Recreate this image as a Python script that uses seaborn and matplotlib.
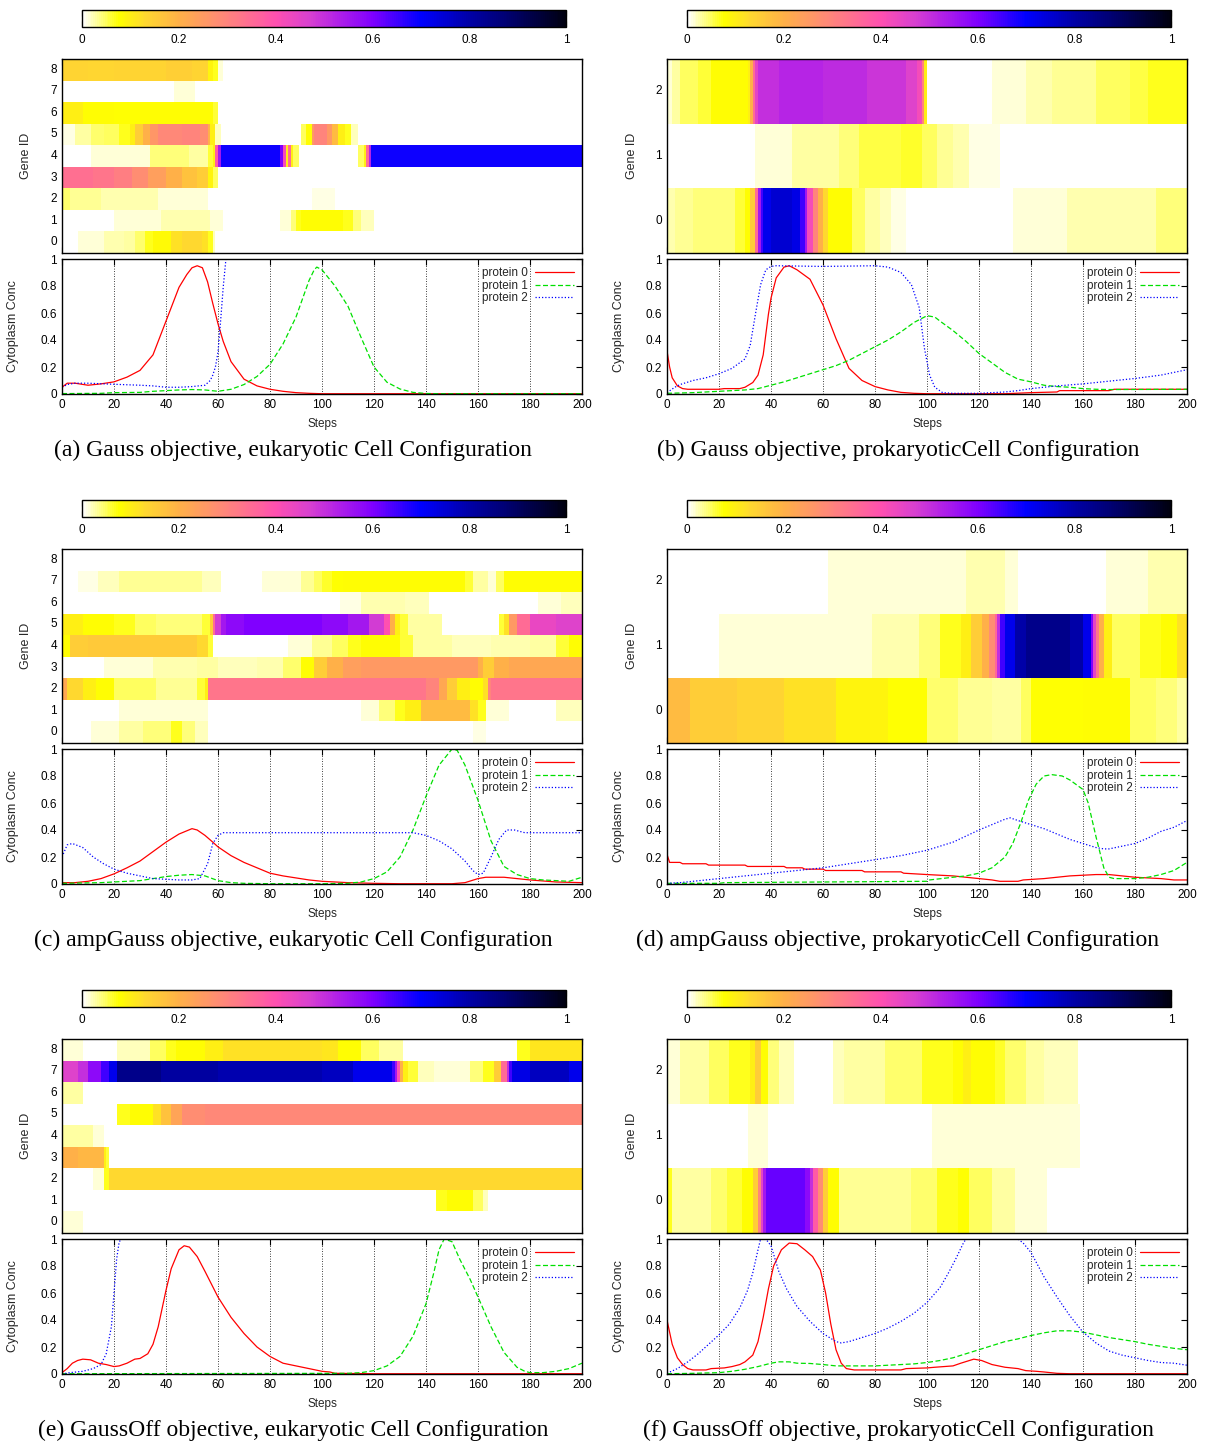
import numpy as np
import pandas as pd
import matplotlib
matplotlib.use("Agg")
import matplotlib.pyplot as plt
import seaborn as sns
from matplotlib.colors import LinearSegmentedColormap
from matplotlib.ticker import FuncFormatter

# ---------------- data ----------------
steps_total = 200
x_ticks = [0, 20, 40, 60, 80, 100, 120, 140, 160, 180, 200]
conc_ticks = [0, 0.2, 0.4, 0.6, 0.8, 1]
cbar_ticks = [0, 0.2, 0.4, 0.6, 0.8, 1]
protein_names = ["protein 0", "protein 1", "protein 2"]

captions = [
    "(a) Gauss objective, eukaryotic Cell Configuration",
    "(b) Gauss objective, prokaryoticCell Configuration",
    "(c) ampGauss objective, eukaryotic Cell Configuration",
    "(d) ampGauss objective, prokaryoticCell Configuration",
    "(e) GaussOff objective, eukaryotic Cell Configuration",
    "(f) GaussOff objective, prokaryoticCell Configuration",
]

# gene expression: (start step, value) pairs, value holds until next start
a_g0 = [(0,0),(6,0.012),(16,0.025),(24,0.03),(28,0.045),(32,0.07),(35,0.085),(42,0.12),(46,0.13),(54,0.12),(56,0.07),(58,0.02),(59,0)]
a_g1 = [(0,0),(20,0.012),(38,0.025),(57,0.012),(62,0),(84,0.012),(88,0.04),(90,0.07),(92,0.08),(108,0.07),(112,0.04),(115,0.02),(120,0)]
a_g2 = [(0,0.045),(3,0.035),(15,0.025),(37,0.015),(56,0),(96,0.01),(105,0)]
a_g3 = [(0,0.34),(12,0.33),(20,0.31),(27,0.28),(33,0.24),(40,0.2),(46,0.17),(52,0.15),(56,0.09),(58,0.05),(60,0)]
a_g4 = [(0,0),(11,0.012),(34,0.04),(49,0.03),(56,0.06),(58,0.1),(59,0.38),(60,0.55),(61,0.69),(84,0.6),(85,0.42),(86,0.1),(87,0.35),(88,0.1),(89,0.05),(91,0),(114,0.05),(116,0.1),(117,0.35),(118,0.52),(119,0.69)]
a_g5 = [(0,0.01),(5,0.03),(11,0.045),(16,0.05),(22,0.07),(26,0.1),(28,0.15),(31,0.2),(34,0.26),(37,0.29),(46,0.3),(53,0.28),(56,0.2),(57,0.1),(59,0.02),(61,0),(92,0.05),(94,0.08),(96,0.25),(97,0.3),(102,0.25),(104,0.18),(106,0.1),(109,0.07),(111,0.02),(114,0)]
a_g6 = [(0,0.1),(8,0.08),(20,0.075),(30,0.08),(58,0.06),(60,0)]
a_g7 = [(0,0),(43,0.015),(51,0)]
a_g8 = [(0,0.14),(10,0.135),(20,0.14),(40,0.145),(50,0.14),(56,0.09),(58,0.07),(60,0.015),(62,0)]

b_g0 = [(0,0.025),(3,0.035),(10,0.04),(26,0.06),(30,0.08),(32,0.15),(34,0.35),(35,0.55),(36,0.65),(37,0.72),(40,0.75),(48,0.73),(51,0.65),(53,0.55),(54,0.42),(56,0.3),(58,0.2),(60,0.13),(62,0.08),(71,0.05),(76,0.03),(82,0.02),(86,0.01),(92,0),(133,0.012),(154,0.025),(188,0.04)]
b_g1 = [(0,0),(34,0.015),(48,0.03),(66,0.04),(74,0.055),(90,0.065),(98,0.05),(104,0.035),(110,0.025),(116,0.01),(128,0)]
b_g2 = [(0,0.015),(2,0.03),(5,0.05),(12,0.06),(17,0.08),(31,0.1),(32,0.2),(33,0.35),(34,0.45),(35,0.5),(43,0.52),(60,0.51),(77,0.49),(92,0.46),(96,0.42),(98,0.3),(99,0.1),(100,0),(125,0.012),(138,0.025),(148,0.035),(165,0.05),(178,0.055),(185,0.07)]

c_g0 = [(0,0),(11,0.012),(22,0.03),(31,0.04),(42,0.07),(46,0.04),(51,0.02),(56,0),(158,0.01),(163,0)]
c_g1 = [(0,0),(22,0.012),(56,0),(115,0.012),(122,0.04),(128,0.07),(132,0.1),(138,0.18),(157,0.12),(160,0.07),(163,0.015),(172,0),(190,0.02)]
c_g2 = [(0,0.22),(2,0.13),(8,0.1),(13,0.08),(20,0.05),(36,0.035),(52,0.06),(55,0.1),(56,0.33),(140,0.3),(145,0.22),(148,0.15),(152,0.1),(157,0.08),(162,0.12),(164,0.3),(165,0.33)]
c_g3 = [(0,0),(16,0.012),(35,0.025),(52,0.03),(60,0.02),(75,0.025),(85,0.045),(92,0.08),(97,0.15),(102,0.2),(108,0.24),(115,0.25),(160,0.2),(162,0.15),(166,0.2),(172,0.22)]
c_g4 = [(0,0.08),(3,0.15),(10,0.16),(30,0.155),(52,0.13),(56,0.06),(58,0),(87,0.012),(96,0.035),(104,0.05),(110,0.07),(115,0.08),(130,0.06),(135,0.03),(150,0.02),(165,0.025),(180,0.03),(190,0.06),(195,0.08)]
c_g5 = [(0,0.1),(8,0.08),(20,0.07),(28,0.05),(36,0.04),(54,0.06),(57,0.15),(58,0.35),(59,0.48),(61,0.55),(63,0.58),(70,0.6),(100,0.58),(110,0.55),(118,0.48),(124,0.4),(126,0.2),(128,0.1),(130,0.06),(133,0.03),(146,0),(168,0.06),(170,0.12),(172,0.25),(175,0.35),(180,0.44),(190,0.46)]
c_g6 = [(0,0),(107,0.01),(115,0.025),(132,0.02),(141,0),(183,0.012),(192,0.02)]
c_g7 = [(0,0),(6,0.01),(14,0.02),(22,0.035),(54,0.02),(61,0),(77,0.012),(92,0.035),(97,0.05),(100,0.065),(104,0.075),(108,0.08),(155,0.06),(158,0.03),(164,0.015),(167,0.05),(170,0.08)]
c_g8 = [(0,0)]

d_g0 = [(0,0.18),(9,0.15),(27,0.14),(45,0.12),(65,0.09),(85,0.075),(100,0.045),(112,0.035),(125,0.03),(136,0.05),(140,0.075),(160,0.08),(178,0.05),(188,0.04),(196,0.03)]
d_g1 = [(0,0),(20,0.012),(79,0.025),(97,0.04),(105,0.07),(113,0.1),(117,0.15),(121,0.2),(124,0.28),(126,0.36),(127,0.5),(128,0.65),(130,0.72),(134,0.8),(138,0.84),(155,0.8),(160,0.72),(163,0.6),(164,0.45),(165,0.33),(166,0.2),(168,0.1),(171,0.05),(182,0.07),(190,0.08),(196,0.12)]
d_g2 = [(0,0),(62,0.012),(115,0.025),(130,0.012),(135,0),(169,0.015),(185,0.025)]

e_g0 = [(0,0.015),(8,0)]
e_g1 = [(0,0),(144,0.07),(148,0.08),(158,0.05),(162,0.02),(164,0)]
e_g2 = [(0,0),(12,0.012),(16,0.07),(18,0.13)]
e_g3 = [(0,0.2),(6,0.19),(16,0.1),(17,0.06),(18,0)]
e_g4 = [(0,0.03),(12,0.015),(16,0)]
e_g5 = [(0,0),(21,0.07),(26,0.08),(35,0.12),(38,0.17),(42,0.23),(46,0.28),(55,0.29)]
e_g6 = [(0,0.03),(8,0)]
e_g7 = [(0,0.46),(6,0.5),(10,0.58),(15,0.65),(18,0.72),(21,0.84),(30,0.85),(38,0.81),(60,0.79),(100,0.77),(112,0.72),(127,0.65),(128,0.55),(129,0.4),(130,0.2),(131,0.1),(133,0.06),(137,0.02),(143,0.015),(157,0.04),(162,0.07),(166,0.15),(169,0.35),(171,0.5),(172,0.65),(173,0.73),(180,0.77),(195,0.72)]
e_g8 = [(0,0.015),(8,0),(21,0.02),(34,0.05),(40,0.07),(44,0.08),(55,0.1),(62,0.12),(100,0.11),(106,0.08),(115,0.05),(122,0.03),(131,0),(175,0.07),(180,0.11)]

f_g0 = [(0,0.07),(2,0.03),(17,0.045),(23,0.06),(29,0.08),(33,0.15),(35,0.3),(36,0.45),(37,0.55),(38,0.62),(53,0.58),(55,0.5),(56,0.38),(58,0.28),(60,0.15),(62,0.08),(66,0.035),(94,0.045),(104,0.07),(112,0.075),(116,0.05),(125,0.03),(134,0.015),(146,0)]
f_g1 = [(0,0),(31,0.012),(39,0),(102,0.012),(159,0)]
f_g2 = [(0,0.015),(5,0.03),(16,0.05),(24,0.07),(32,0.1),(34,0.15),(36,0.08),(39,0.04),(43,0.02),(49,0),(64,0.02),(68,0.03),(84,0.045),(98,0.07),(110,0.08),(114,0.1),(117,0.08),(126,0.065),(130,0.045),(138,0.03),(145,0.02),(158,0)]

# cytoplasm concentration curves
a_p0_x = [0,2,5,10,15,20,25,30,35,40,45,48,50,52,54,56,58,60,62,65,70,75,80,85,90,95,100,200]
a_p0_y = [0.05,0.08,0.08,0.065,0.075,0.09,0.125,0.175,0.29,0.54,0.79,0.885,0.935,0.95,0.935,0.83,0.67,0.52,0.39,0.24,0.11,0.06,0.035,0.02,0.01,0.005,0.002,0.002]
a_p1_x = [0,15,20,30,35,40,45,50,55,60,65,70,75,80,85,90,95,97,98,100,105,110,115,120,125,130,135,140,145,200]
a_p1_y = [0.003,0.005,0.01,0.012,0.02,0.025,0.03,0.033,0.03,0.02,0.035,0.07,0.13,0.22,0.37,0.57,0.84,0.92,0.94,0.92,0.8,0.65,0.42,0.2,0.087,0.037,0.012,0.004,0.002,0.002]
a_p2_x = [0,2,5,10,20,30,35,40,45,50,55,57,58,59,60,61,62,63,64,200]
a_p2_y = [0.05,0.07,0.08,0.08,0.072,0.065,0.06,0.05,0.05,0.055,0.065,0.1,0.14,0.2,0.31,0.54,0.79,0.99,1.3,1.3]

b_p0_x = [0,1,2,4,6,8,20,22,28,30,33,35,37,39,40,42,45,47,50,55,60,65,70,75,80,85,90,95,100,130,140,150,151,170,172,200]
b_p0_y = [0.32,0.2,0.12,0.06,0.04,0.035,0.035,0.04,0.04,0.05,0.085,0.14,0.29,0.59,0.71,0.86,0.94,0.95,0.92,0.85,0.66,0.41,0.19,0.1,0.055,0.03,0.012,0.005,0.002,0.002,0.01,0.015,0.025,0.025,0.035,0.035]
b_p1_x = [0,10,20,30,35,40,45,50,55,60,65,70,75,80,85,90,95,100,103,105,110,115,120,125,130,135,140,145,150,155,160,165,170,200]
b_p1_y = [0.005,0.01,0.02,0.03,0.04,0.065,0.09,0.12,0.15,0.18,0.21,0.25,0.3,0.35,0.4,0.46,0.53,0.58,0.57,0.54,0.47,0.39,0.3,0.23,0.16,0.11,0.09,0.065,0.055,0.05,0.04,0.035,0.033,0.035]
b_p2_x = [0,3,5,10,15,20,25,30,32,34,36,38,40,42,60,80,85,90,94,97,99,101,103,106,110,120,125,130,135,140,150,160,170,180,190,200]
b_p2_y = [0.01,0.05,0.07,0.1,0.12,0.15,0.19,0.26,0.36,0.59,0.81,0.92,0.945,0.95,0.945,0.95,0.94,0.9,0.81,0.64,0.34,0.14,0.05,0.01,0.005,0.005,0.01,0.015,0.025,0.04,0.06,0.075,0.095,0.115,0.14,0.18]

c_p0_x = [0,5,10,15,20,25,30,35,40,45,50,52,55,58,60,65,70,75,80,85,90,95,100,110,120,130,150,155,160,163,170,175,180,190,200]
c_p0_y = [0.01,0.01,0.02,0.04,0.075,0.12,0.17,0.24,0.31,0.37,0.41,0.4,0.36,0.31,0.275,0.21,0.16,0.12,0.08,0.06,0.045,0.03,0.02,0.01,0.005,0.002,0.002,0.01,0.04,0.05,0.05,0.04,0.03,0.015,0.01]
c_p1_x = [0,15,20,30,35,40,45,50,55,60,65,70,80,100,110,115,120,125,130,135,140,145,150,152,155,160,165,170,175,180,185,190,195,200]
c_p1_y = [0.005,0.01,0.015,0.025,0.04,0.055,0.065,0.07,0.06,0.025,0.01,0.005,0.002,0.002,0.005,0.015,0.04,0.09,0.2,0.4,0.65,0.88,1.0,0.99,0.88,0.62,0.32,0.13,0.07,0.04,0.03,0.025,0.02,0.05]
c_p2_x = [0,2,4,8,12,16,20,25,30,35,40,45,50,53,56,58,60,62,100,135,140,145,150,155,158,160,162,165,168,171,174,178,200]
c_p2_y = [0.2,0.29,0.3,0.27,0.2,0.15,0.11,0.08,0.06,0.04,0.035,0.03,0.03,0.04,0.15,0.3,0.36,0.38,0.38,0.38,0.36,0.32,0.26,0.17,0.1,0.07,0.08,0.2,0.33,0.4,0.4,0.38,0.38]

d_p0_x = [0,1,5,6,15,16,30,31,45,46,52,53,60,61,75,76,90,91,100,110,115,120,125,128,135,137,145,150,155,165,170,175,180,190,195,200]
d_p0_y = [0.22,0.16,0.16,0.15,0.15,0.14,0.14,0.13,0.13,0.12,0.12,0.11,0.11,0.1,0.1,0.09,0.09,0.08,0.07,0.06,0.05,0.04,0.03,0.02,0.02,0.03,0.04,0.05,0.06,0.07,0.07,0.06,0.05,0.04,0.03,0.03]
d_p1_x = [0,20,22,100,101,110,115,120,125,130,133,136,139,142,145,148,152,155,160,162,165,168,170,172,180,185,190,195,200]
d_p1_y = [0.005,0.005,0.01,0.02,0.03,0.05,0.06,0.08,0.12,0.2,0.3,0.45,0.62,0.74,0.8,0.81,0.8,0.77,0.7,0.6,0.35,0.12,0.05,0.04,0.04,0.05,0.07,0.1,0.16]
d_p2_x = [0,5,10,20,30,40,50,60,70,80,90,100,110,120,125,130,132,135,140,145,150,155,160,165,168,170,175,180,185,190,195,200]
d_p2_y = [0.005,0.01,0.02,0.04,0.06,0.08,0.1,0.12,0.15,0.18,0.21,0.25,0.31,0.4,0.44,0.48,0.49,0.47,0.44,0.41,0.37,0.33,0.3,0.27,0.26,0.26,0.28,0.3,0.34,0.39,0.42,0.47]

e_p0_x = [0,2,4,6,8,11,14,17,20,22,25,28,30,33,35,37,40,42,45,47,49,52,55,60,65,70,75,80,85,90,95,100,103,105,120,200]
e_p0_y = [0.01,0.04,0.08,0.1,0.11,0.105,0.08,0.07,0.055,0.06,0.08,0.11,0.115,0.15,0.22,0.35,0.62,0.78,0.92,0.95,0.94,0.87,0.76,0.57,0.42,0.3,0.2,0.13,0.08,0.06,0.04,0.02,0.015,0.005,0.002,0.002]
e_p1_x = [0,110,115,120,125,130,135,140,143,145,147,150,153,157,160,165,170,175,178,180,185,190,195,200]
e_p1_y = [0.002,0.005,0.01,0.025,0.06,0.13,0.28,0.52,0.75,0.92,1.0,0.98,0.85,0.7,0.57,0.35,0.16,0.05,0.02,0.01,0.01,0.02,0.04,0.08]
e_p2_x = [0,3,8,12,15,17,19,20,21,22,23,200]
e_p2_y = [0.0,0.01,0.02,0.04,0.07,0.15,0.35,0.6,0.85,0.98,1.0,1.0]

f_p0_x = [0,2,4,6,8,10,15,17,22,25,28,30,33,35,37,39,41,44,47,50,53,56,59,61,63,65,67,69,72,90,92,100,103,110,113,118,121,125,130,135,138,142,145,150,155,200]
f_p0_y = [0.4,0.22,0.12,0.07,0.04,0.03,0.03,0.04,0.045,0.055,0.07,0.09,0.14,0.24,0.42,0.63,0.8,0.92,0.97,0.965,0.92,0.87,0.77,0.6,0.37,0.18,0.08,0.04,0.03,0.03,0.04,0.045,0.05,0.06,0.08,0.11,0.1,0.07,0.05,0.04,0.025,0.02,0.015,0.005,0.002,0.002]
f_p1_x = [0,10,20,25,30,35,40,43,47,50,55,60,65,70,80,85,90,95,100,105,110,115,120,125,130,135,140,145,150,155,160,165,170,175,180,185,190,195,200]
f_p1_y = [0.002,0.005,0.01,0.02,0.035,0.055,0.08,0.09,0.09,0.08,0.078,0.07,0.06,0.06,0.06,0.065,0.07,0.075,0.085,0.1,0.12,0.15,0.18,0.21,0.24,0.26,0.285,0.305,0.32,0.32,0.31,0.29,0.27,0.255,0.24,0.22,0.205,0.19,0.18]
f_p2_x = [0,4,8,12,16,20,24,28,31,33,35,36,38,40,43,46,50,55,60,65,67,70,75,80,85,90,95,100,105,108,111,114,115,135,137,140,145,150,155,160,165,170,175,180,185,190,195,200]
f_p2_y = [0.005,0.04,0.09,0.15,0.22,0.29,0.37,0.49,0.62,0.75,0.92,1.0,1.0,0.95,0.76,0.63,0.5,0.39,0.3,0.24,0.23,0.24,0.27,0.3,0.34,0.39,0.45,0.53,0.64,0.74,0.85,0.97,1.0,1.0,0.97,0.9,0.72,0.57,0.43,0.31,0.23,0.17,0.14,0.12,0.1,0.085,0.08,0.065]

# colour map (white - yellow - orange - pink - purple - blue - black)
cmap_stops = [0.0, 0.075, 0.13, 0.2, 0.29, 0.34, 0.4, 0.47, 0.53, 0.6, 0.7, 0.8, 0.88, 1.0]
cmap_colors = ["#ffffff", "#ffff00", "#ffd830", "#ffb048", "#ff8878", "#ff7090", "#ff50b0",
               "#d840d0", "#b020e8", "#8000ff", "#0000ff", "#0000a8", "#000070", "#000010"]
cmap = LinearSegmentedColormap.from_list("gp", list(zip(cmap_stops, cmap_colors)))

line_colors = ["#ff0000", "#00e000", "#0000ff"]
line_styles = ["-", (0, (4, 2)), (0, (1, 1.6))]

panels = [
    ([a_g0, a_g1, a_g2, a_g3, a_g4, a_g5, a_g6, a_g7, a_g8],
     [(a_p0_x, a_p0_y), (a_p1_x, a_p1_y), (a_p2_x, a_p2_y)]),
    ([b_g0, b_g1, b_g2],
     [(b_p0_x, b_p0_y), (b_p1_x, b_p1_y), (b_p2_x, b_p2_y)]),
    ([c_g0, c_g1, c_g2, c_g3, c_g4, c_g5, c_g6, c_g7, c_g8],
     [(c_p0_x, c_p0_y), (c_p1_x, c_p1_y), (c_p2_x, c_p2_y)]),
    ([d_g0, d_g1, d_g2],
     [(d_p0_x, d_p0_y), (d_p1_x, d_p1_y), (d_p2_x, d_p2_y)]),
    ([e_g0, e_g1, e_g2, e_g3, e_g4, e_g5, e_g6, e_g7, e_g8],
     [(e_p0_x, e_p0_y), (e_p1_x, e_p1_y), (e_p2_x, e_p2_y)]),
    ([f_g0, f_g1, f_g2],
     [(f_p0_x, f_p0_y), (f_p1_x, f_p1_y), (f_p2_x, f_p2_y)]),
]


def expand(segs):
    row = np.zeros(steps_total)
    for k, (s, v) in enumerate(segs):
        e = segs[k + 1][0] if k + 1 < len(segs) else steps_total
        row[s:e] = v
    return row


# ---------------- drawing ----------------
sns.set_theme(style="white")
plt.rcParams["font.family"] = ["Liberation Sans", "DejaVu Sans"]
plt.rcParams["axes.edgecolor"] = "black"

W, H = 1209, 1447
fig = plt.figure(figsize=(W / 100, H / 100), dpi=100)


def px_axes(x0, y0, x1, y1):
    return fig.add_axes([x0 / W, 1 - y1 / H, (x1 - x0) / W, (y1 - y0) / H])


FS = 8.5
fmt = FuncFormatter(lambda v, p: f"{v:g}")

for i, (genes, curves) in enumerate(panels):
    col, row = i % 2, i // 2
    off = 490 * row
    xl = 62 if col == 0 else 667
    xr = xl + 520
    cxl = 82 if col == 0 else 687
    cax = px_axes(cxl, 10 + off, cxl + 484, 27 + off)
    hax = px_axes(xl, 59 + off, xr, 253 + off)
    lax = px_axes(xl, 259 + off, xr, 394 + off)

    n = len(genes)
    mat = pd.DataFrame([expand(g) for g in genes], index=list(range(n)))
    sns.heatmap(mat, ax=hax, cmap=cmap, vmin=0, vmax=1, cbar=True, cbar_ax=cax,
                cbar_kws={"orientation": "horizontal", "ticks": cbar_ticks},
                xticklabels=False, yticklabels=list(range(n)))
    hax.invert_yaxis()
    hax.set_xlim(0, steps_total)
    hax.set_xticks(x_ticks)
    hax.set_xticklabels([])
    hax.set_yticklabels(list(range(n)), rotation=0)
    hax.tick_params(axis="both", direction="in", length=4, width=0.8, top=True, right=True,
                    bottom=True, left=True, labelsize=FS, colors="black")
    for sp in hax.spines.values():
        sp.set_visible(True)
        sp.set_color("black")
        sp.set_linewidth(1.0)
    hax.set_xlabel("")
    hax.set_ylabel("Gene ID", fontsize=FS + 0.5)
    hax.yaxis.set_label_coords(-0.058 if col == 0 else -0.056, 0.5)

    cbar = hax.collections[0].colorbar
    cbar.outline.set_edgecolor("black")
    cbar.outline.set_linewidth(1.0)
    cbar.ax.tick_params(direction="in", length=4, width=0.8, top=True, bottom=True,
                        labelsize=FS, colors="black", pad=5)
    cbar.ax.xaxis.set_major_formatter(fmt)

    for pid, (xs, ys) in enumerate(curves):
        sns.lineplot(x=xs, y=ys, ax=lax, color=line_colors[pid], linestyle=line_styles[pid],
                     linewidth=0.9, label=protein_names[pid], estimator=None, sort=False)
    lax.set_xlim(0, steps_total)
    lax.set_ylim(0, 1)
    lax.set_xticks(x_ticks)
    lax.set_yticks(conc_ticks)
    lax.yaxis.set_major_formatter(fmt)
    lax.grid(True, axis="x", linestyle=(0, (1, 2)), color="black", linewidth=0.6)
    lax.grid(False, axis="y")
    lax.tick_params(axis="both", direction="in", length=4, width=0.8, top=True, right=True,
                    labelsize=FS, colors="black")
    for sp in lax.spines.values():
        sp.set_visible(True)
        sp.set_color("black")
        sp.set_linewidth(1.0)
    lax.set_xlabel("Steps", fontsize=FS, labelpad=5)
    lax.set_ylabel("Cytoplasm Conc", fontsize=FS + 0.5)
    lax.yaxis.set_label_coords(-0.083 if col == 0 else -0.081, 0.5)
    lax.legend(loc="upper right", frameon=False, markerfirst=False, fontsize=FS,
               handlelength=3.3, labelspacing=0.05, borderaxespad=0.3, handletextpad=0.6)

    cx = 293 if col == 0 else 898
    fig.text(cx / W, 1 - (450 + off) / H, captions[i], ha="center", va="center",
             family=["Liberation Serif", "DejaVu Serif"], fontsize=17, color="black")

fig.savefig("out.png", dpi=100)
